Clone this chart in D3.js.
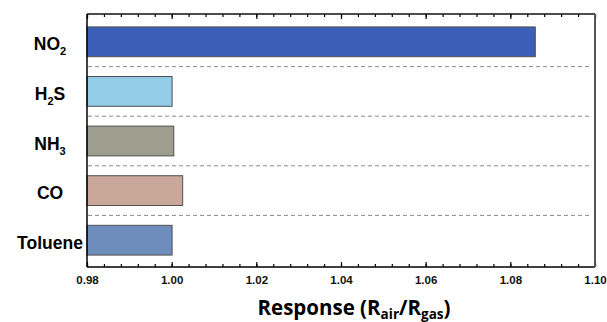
<!DOCTYPE html>
<html>
<head>
<meta charset="utf-8">
<script src="https://cdn.jsdelivr.net/npm/d3@7"></script>
<style>
  body { margin: 0; background: #fff; }
  svg { display: block; }
</style>
</head>
<body>
<div class="chart"></div>
<script>
// gas names, digits get drawn as subscripts
const gases = ["NO2", "H2S", "NH3", "CO", "Toluene"]
const responses = [1.0859, 1.0001, 1.0005, 1.0026, 1.0001]
const barColors = ["#3b5fb7", "#93cde7", "#9d9e8d", "#c9a899", "#6f8dbc"]
const xTicks = [0.98, 1.00, 1.02, 1.04, 1.06, 1.08, 1.10]

let width = 607, height = 322
let plotLeft = 87, plotRight = 595, plotTop = 14, plotBottom = 267

let svg = d3.select("div.chart").append("svg")
    .attr("width", width)
    .attr("height", height)

let x = d3.scaleLinear().domain([0.98, 1.10]).range([plotLeft, plotRight])
let y = d3.scaleBand().domain(gases).range([17, 265])
    .paddingInner(0.4).paddingOuter(0.2)

// dashed separators between the bars
let step = y.step()
svg.selectAll("line.sep")
    .data(gases.slice(0, -1))
    .enter()
    .append("line")
    .attr("class", "sep")
    .attr("x1", plotLeft + 1).attr("x2", plotRight - 3)
    .attr("y1", d => y(d) + y.bandwidth() + (step - y.bandwidth()) / 2)
    .attr("y2", d => y(d) + y.bandwidth() + (step - y.bandwidth()) / 2)
    .attr("stroke", "#8a8a8a")
    .attr("stroke-width", 1)
    .attr("stroke-dasharray", "4,3")

// bars start at the left edge of the axis
svg.selectAll("rect.bar")
    .data(gases)
    .enter()
    .append("rect")
    .attr("class", "bar")
    .attr("x", x(0.98))
    .attr("y", d => y(d))
    .attr("width", (d, i) => x(responses[i]) - x(0.98))
    .attr("height", y.bandwidth())
    .attr("fill", (d, i) => barColors[i])
    .attr("stroke", "#505050")
    .attr("stroke-width", 1)

// bottom axis with minor ticks pointing inward
let minor = d3.range(0, 31).map(i => 0.98 + i * 0.004)
let bottomAxis = svg.append("g").attr("transform", `translate(0,${plotBottom})`)
bottomAxis.call(d3.axisBottom(x).tickValues(minor).tickSize(-3).tickFormat(""))
bottomAxis.append("g").call(d3.axisBottom(x).tickValues(xTicks).tickSize(-5).tickFormat(d3.format(".2f")))
bottomAxis.selectAll("path.domain").remove()
bottomAxis.selectAll("line").attr("stroke", "#000").attr("stroke-width", 1.2)
bottomAxis.selectAll("text").filter(function() { return this.textContent === "" }).remove()
bottomAxis.selectAll("text")
    .attr("y", 9)
    .attr("dy", "0.71em")
    .attr("fill", "#111")
    .style("font-family", "'Liberation Sans', Arial, sans-serif")
    .style("font-weight", "bold")
    .style("font-size", "11.5px")

// top axis, ticks pointing down
let topAxis = svg.append("g").attr("transform", `translate(0,${plotTop})`)
topAxis.call(d3.axisTop(x).tickValues(minor).tickSize(-3).tickFormat(""))
topAxis.append("g").call(d3.axisTop(x).tickValues(xTicks).tickSize(-5).tickFormat(""))
topAxis.selectAll("path.domain").remove()
topAxis.selectAll("text").remove()
topAxis.selectAll("line").attr("stroke", "#000").attr("stroke-width", 1.2)

// frame
svg.append("line").attr("x1", plotLeft).attr("x2", plotRight).attr("y1", plotTop).attr("y2", plotTop)
    .attr("stroke", "#111").attr("stroke-width", 1.5)
svg.append("line").attr("x1", plotLeft).attr("x2", plotRight).attr("y1", plotBottom).attr("y2", plotBottom)
    .attr("stroke", "#000").attr("stroke-width", 1.5)
svg.append("line").attr("x1", plotLeft).attr("x2", plotLeft).attr("y1", plotTop).attr("y2", plotBottom)
    .attr("stroke", "#000").attr("stroke-width", 1.5)
svg.append("line").attr("x1", plotRight).attr("x2", plotRight).attr("y1", plotTop).attr("y2", plotBottom)
    .attr("stroke", "#555").attr("stroke-width", 2)

// category labels, digits as subscripts
let labels = svg.selectAll("text.gas")
    .data(gases)
    .enter()
    .append("text")
    .attr("class", "gas")
    .attr("x", 50)
    .attr("y", d => y(d) + y.bandwidth() / 2 + 8.5)
    .attr("text-anchor", "middle")
    .style("font-family", "'Liberation Sans', Arial, sans-serif")
    .style("font-weight", "bold")
    .style("font-size", "17.5px")
    .attr("fill", "#000")

labels.each(function(d) {
    let t = d3.select(this)
    let shift = 0
    d.match(/\d+|\D+/g).forEach(part => {
        if (/\d/.test(part)) {
            t.append("tspan").text(part).attr("dy", 5).style("font-size", "11px")
            shift = -5
        } else {
            t.append("tspan").text(part).attr("dy", shift)
            shift = 0
        }
    })
})

// axis title
let title = svg.append("text")
    .attr("x", 354)
    .attr("y", 315)
    .attr("text-anchor", "middle")
    .style("font-family", "'Open Sans', sans-serif")
    .style("font-weight", "bold")
    .style("font-size", "20.5px")
    .attr("fill", "#000")
title.append("tspan").text("Response (R")
title.append("tspan").text("air").attr("dy", 4).style("font-size", "13.5px")
title.append("tspan").text("/R").attr("dy", -4)
title.append("tspan").text("gas").attr("dy", 4).style("font-size", "13.5px")
title.append("tspan").text(")").attr("dy", -4)
</script>
</body>
</html>
